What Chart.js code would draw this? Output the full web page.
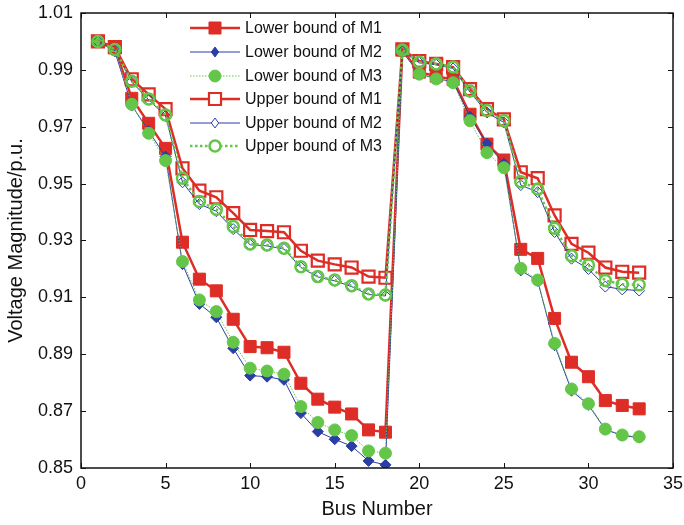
<!DOCTYPE html>
<html>
<head>
<meta charset="utf-8">
<script src="https://cdn.jsdelivr.net/npm/chart.js@4/dist/chart.umd.min.js"></script>
<style>
  html, body { margin: 0; padding: 0; background: #fff; }
  #wrap { width: 684px; height: 525px; }
</style>
</head>
<body>
<div id="wrap"><canvas id="myChart" width="684" height="525"></canvas></div>
<script>
// bus numbers 1..33
const busNumbers = [1,2,3,4,5,6,7,8,9,10,11,12,13,14,15,16,17,18,19,20,21,22,23,24,25,26,27,28,29,30,31,32,33];

const lowerM1 = [1.000, 0.9978, 0.9800, 0.9712, 0.9624, 0.9294, 0.9164, 0.9123, 0.9023, 0.8927, 0.8923, 0.8907, 0.8798, 0.8742, 0.8714, 0.8690, 0.8634, 0.8626,
  0.9970, 0.9892, 0.9878, 0.9866, 0.9744, 0.9639, 0.9583, 0.9269, 0.9237, 0.9026, 0.8872, 0.8821, 0.8737, 0.8720, 0.8708];
const lowerM2 = [1.000, 0.9965, 0.9775, 0.9685, 0.9595, 0.9217, 0.9077, 0.9030, 0.8921, 0.8825, 0.8821, 0.8810, 0.8693, 0.8628, 0.8601, 0.8577, 0.8525, 0.8511,
  0.9965, 0.9885, 0.9870, 0.9858, 0.9735, 0.9640, 0.9570, 0.9195, 0.9158, 0.8932, 0.8772, 0.8722, 0.8635, 0.8614, 0.8607];
const lowerM3 = [1.000, 0.9970, 0.9779, 0.9677, 0.9581, 0.9226, 0.9091, 0.9050, 0.8942, 0.8851, 0.8841, 0.8830, 0.8716, 0.8660, 0.8634, 0.8614, 0.8560, 0.8552,
  0.9968, 0.9885, 0.9868, 0.9855, 0.9721, 0.9609, 0.9556, 0.9202, 0.9161, 0.8938, 0.8778, 0.8726, 0.8637, 0.8616, 0.8610];
const upperM1 = [1.000, 0.9980, 0.9867, 0.9814, 0.9762, 0.9554, 0.9475, 0.9452, 0.9396, 0.9337, 0.9333, 0.9329, 0.9264, 0.9229, 0.9216, 0.9205, 0.9173, 0.9169,
  0.9972, 0.9931, 0.9921, 0.9910, 0.9832, 0.9762, 0.9726, 0.9540, 0.9519, 0.9388, 0.9288, 0.9257, 0.9205, 0.9190, 0.9187];
const upperM2 = [1.000, 0.9968, 0.9858, 0.9795, 0.9738, 0.9505, 0.9428, 0.9403, 0.9340, 0.9285, 0.9281, 0.9270, 0.9205, 0.9172, 0.9158, 0.9138, 0.9110, 0.9105,
  0.9965, 0.9925, 0.9918, 0.9905, 0.9822, 0.9750, 0.9715, 0.9495, 0.9470, 0.9330, 0.9236, 0.9200, 0.9138, 0.9128, 0.9124];
const upperM3 = [1.000, 0.9972, 0.9860, 0.9798, 0.9741, 0.9519, 0.9437, 0.9410, 0.9349, 0.9288, 0.9284, 0.9273, 0.9208, 0.9173, 0.9161, 0.9141, 0.9112, 0.9108,
  0.9970, 0.9927, 0.9921, 0.9910, 0.9826, 0.9757, 0.9721, 0.9507, 0.9481, 0.9343, 0.9246, 0.9214, 0.9159, 0.9146, 0.9144];

const yTicks = [0.85, 0.87, 0.89, 0.91, 0.93, 0.95, 0.97, 0.99, 1.01];
const xTicks = [0, 5, 10, 15, 20, 25, 30, 35];

const RED = 'rgb(222, 45, 38)';
const BLUE = 'rgb(42, 62, 165)';
const GREEN = 'rgb(100, 198, 72)';
const FONT = '"Liberation Sans", Arial, sans-serif';

function pts(vals) {
  return busNumbers.map((b, i) => ({ x: b, y: vals[i] }));
}

// style per series (also used by the hand drawn legend)
const seriesList = [
  { label: 'Lower bound of M1', values: lowerM1, color: RED, width: 2.5, dash: [], shape: 'rect', r: 8.5, fill: RED, pw: 1 },
  { label: 'Lower bound of M2', values: lowerM2, color: BLUE, width: 1, dash: [], shape: 'rectRot', r: 5.5, fill: BLUE, pw: 1 },
  { label: 'Lower bound of M3', values: lowerM3, color: GREEN, width: 1, dash: [1.5, 1.5], shape: 'circle', r: 6, fill: GREEN, pw: 1 },
  { label: 'Upper bound of M1', values: upperM1, color: RED, width: 2.5, dash: [], shape: 'rect', r: 8.5, fill: 'rgba(255,255,255,0)', pw: 2.2 },
  { label: 'Upper bound of M2', values: upperM2, color: BLUE, width: 1, dash: [], shape: 'rectRot', r: 5.5, fill: 'rgba(255,255,255,0)', pw: 1 },
  { label: 'Upper bound of M3', values: upperM3, color: GREEN, width: 2.5, dash: [2.5, 2.5], shape: 'circle', r: 5.5, fill: 'rgba(255,255,255,0)', pw: 2.5 }
];

const datasets = seriesList.map((s, i) => ({
  label: s.label,
  data: pts(s.values),
  borderColor: s.color,
  borderWidth: s.width,
  borderDash: s.dash,
  pointStyle: s.shape,
  pointRadius: s.r,
  pointBackgroundColor: s.fill,
  pointBorderColor: s.color,
  pointBorderWidth: s.pw,
  tension: 0,
  order: seriesList.length - i
}));

// box, inward ticks and legend
const frame = {
  id: 'frame',
  afterDatasetsDraw(chart) {
    const ctx = chart.ctx;
    const a = chart.chartArea;
    const xs = chart.scales.x, ys = chart.scales.y;
    ctx.save();
    ctx.strokeStyle = '#111';
    ctx.lineWidth = 1;
    const tl = 5;
    ctx.beginPath();
    xTicks.forEach(v => {
      const px = Math.round(xs.getPixelForValue(v)) + 0.5;
      ctx.moveTo(px, a.bottom); ctx.lineTo(px, a.bottom - tl);
      ctx.moveTo(px, a.top); ctx.lineTo(px, a.top + tl);
    });
    yTicks.forEach(v => {
      const py = Math.round(ys.getPixelForValue(v)) + 0.5;
      ctx.moveTo(a.left, py); ctx.lineTo(a.left + tl, py);
      ctx.moveTo(a.right, py); ctx.lineTo(a.right - tl, py);
    });
    ctx.stroke();
    ctx.lineWidth = 1.5;
    ctx.strokeRect(a.left, a.top, a.right - a.left, a.bottom - a.top);

    // legend
    const lx0 = 190, lx1 = 240, tx = 245;
    const rowY = [28, 52, 76, 99, 123, 146];
    ctx.font = '16px ' + FONT;
    ctx.textBaseline = 'middle';
    ctx.textAlign = 'left';
    seriesList.forEach((s, i) => {
      const y = rowY[i];
      const cx = (lx0 + lx1) / 2;
      ctx.strokeStyle = s.color;
      ctx.lineWidth = s.width;
      ctx.setLineDash(s.dash);
      ctx.beginPath();
      ctx.moveTo(lx0, y); ctx.lineTo(lx1, y);
      ctx.stroke();
      ctx.setLineDash([]);
      ctx.fillStyle = s.fill === 'rgba(255,255,255,0)' ? '#fff' : s.fill;
      ctx.strokeStyle = s.color;
      ctx.lineWidth = s.pw;
      ctx.beginPath();
      if (s.shape === 'rect') {
        const h = s.r * Math.SQRT1_2;
        ctx.rect(cx - h, y - h, 2 * h, 2 * h);
      } else if (s.shape === 'rectRot') {
        const h = s.r * 0.9;
        ctx.moveTo(cx, y - h); ctx.lineTo(cx + h * 0.75, y); ctx.lineTo(cx, y + h); ctx.lineTo(cx - h * 0.75, y); ctx.closePath();
      } else {
        ctx.arc(cx, y, s.r, 0, Math.PI * 2);
      }
      ctx.fill();
      ctx.stroke();
      ctx.fillStyle = '#111';
      ctx.fillText(s.label, tx, y + 1);
    });
    ctx.restore();
  }
};

const config = {
  type: 'line',
  data: { datasets: datasets },
  options: {
    responsive: false,
    animation: false,
    layout: { padding: { top: 13, right: 11, left: 0, bottom: 0 } },
    plugins: {
      legend: { display: false },
      tooltip: { enabled: false }
    },
    scales: {
      x: {
        type: 'linear',
        min: 0, max: 35,
        afterBuildTicks: s => { s.ticks = xTicks.map(v => ({ value: v })); },
        afterFit: s => { s.height = 57; s.paddingLeft = 0; s.paddingRight = 0; },
        grid: { display: false, drawTicks: false },
        border: { display: false },
        ticks: { color: '#111', font: { size: 18, family: FONT }, padding: 5, maxRotation: 0 },
        title: { display: true, text: 'Bus Number', color: '#111', font: { size: 20, family: FONT }, padding: { top: 4 } }
      },
      y: {
        type: 'linear',
        min: 0.85, max: 1.01,
        afterBuildTicks: s => { s.ticks = yTicks.map(v => ({ value: v })); },
        afterFit: s => { s.width = 81; s.paddingTop = 0; s.paddingBottom = 0; },
        grid: { display: false, drawTicks: false },
        border: { display: false },
        ticks: { color: '#111', font: { size: 18, family: FONT }, padding: 8, callback: v => v.toFixed(2) },
        title: { display: true, text: 'Voltage Magnitude/p.u.', color: '#111', font: { size: 20, family: FONT }, padding: { bottom: 1 } }
      }
    }
  },
  plugins: [frame]
};

new Chart(document.getElementById('myChart'), config);
</script>
</body>
</html>
